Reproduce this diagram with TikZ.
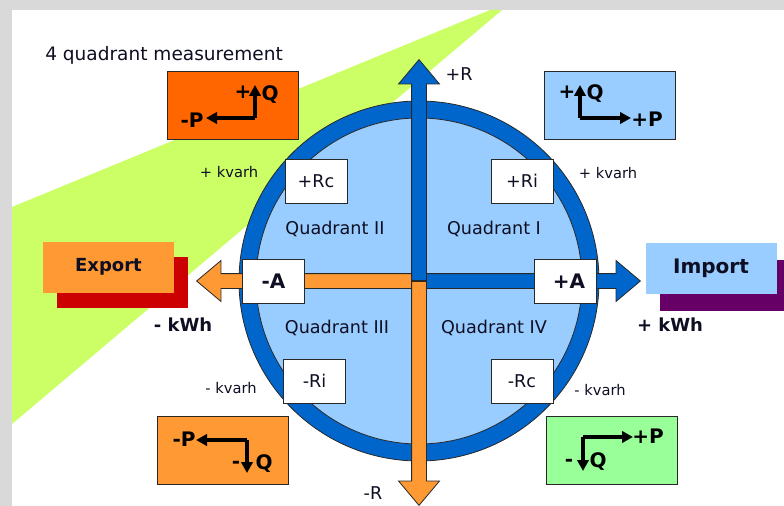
\documentclass[tikz,border=0pt]{standalone}
\usepackage{fontspec}
\setmainfont{DejaVu Sans}
\usetikzlibrary{
  shapes.arrows,
  arrows.meta,
  positioning
}
\newdimen\pxu
\pxu=0.75pt
\definecolor{framegray}{RGB}{217, 217, 217}
\definecolor{bandgreen}{RGB}{204, 255, 102}
\definecolor{ringblue}{RGB}{0, 102, 204}
\definecolor{discblue}{RGB}{153, 204, 255}
\definecolor{axisorange}{RGB}{255, 153, 51}
\definecolor{deeporange}{RGB}{255, 102, 0}
\definecolor{palegreen}{RGB}{153, 255, 153}
\definecolor{exportshadow}{RGB}{204, 0, 0}
\definecolor{importshadow}{RGB}{102, 0, 102}
\definecolor{outlinecolor}{RGB}{40, 40, 40}
\definecolor{labelcolor}{RGB}{15, 15, 35}
\tikzset{
blocktext/.style={
  align=center,
  text=labelcolor,
  font=\fontsize{13.2}{15}\selectfont
},
smalltext/.style={
  blocktext,
  font=\fontsize{11}{13}\selectfont
},
boldtext/.style={
  blocktext,
  font=\bfseries\fontsize{13.5}{15}\selectfont
},
vectext/.style={
  text=black,
  inner sep=0pt,
  font=\bfseries\fontsize{15}{16}\selectfont
},
rbox/.style={
  draw=outlinecolor,
  line width=0.6pt,
  fill=white,
  minimum width=62\pxu,
  minimum height=44\pxu,
  inner sep=0pt,
  blocktext
},
abox/.style={
  rbox,
  font=\bfseries\fontsize{15}{17}\selectfont
},
quadbox/.style={
  draw=outlinecolor,
  line width=0.7pt,
  minimum width=131\pxu,
  minimum height=68\pxu,
  inner sep=0pt
},
flowbox/.style={
  minimum width=131\pxu,
  minimum height=51\pxu,
  inner sep=0pt,
  boldtext
},
axisarrow/.style 2 args={
  single arrow,
  draw=outlinecolor,
  line width=0.6pt,
  fill=#1,
  inner sep=7\pxu,
  single arrow head extend=13\pxu,
  single arrow tip angle=80,
  minimum height=#2,
  anchor=tail
},
vecarrow/.style={
  -{Triangle[length=8.25pt,width=8.5pt]},
  line width=2.9pt,
  draw=black
}
}

\begin{document}
\begin{tikzpicture}[x=\pxu, y=-\pxu]
  \useasboundingbox (0,0) rectangle (784,506);
  \fill[white] (0,0) rectangle (784,506);
  \fill[framegray] (0,0) rectangle (784,10);
  \fill[framegray] (0,0) rectangle (12,506);

  % green band
  \fill[bandgreen] (12,207) -- (490,10) -- (502,10) -- (12,424) -- cycle;

  \node[anchor=west, inner sep=0pt, blocktext, font=\fontsize{13.9}{16}\selectfont] (title) at (45,55) {4 quadrant measurement};

  % the circle
  \coordinate (c) at (419,281);
  \node[circle, draw=outlinecolor, line width=0.6pt, fill=ringblue,
        minimum size=360\pxu, inner sep=0pt] (ring) at (c) {};
  \node[circle, draw=outlinecolor, line width=0.6pt, fill=discblue,
        minimum size=326\pxu, inner sep=0pt] (disc) at (c) {};

  % axes
  \node[axisarrow={axisorange}{222\pxu}, rotate=180] (exparrow) at (c) {};
  \node[axisarrow={ringblue}{221\pxu}] (imparrow) at (c) {};
  \node[axisarrow={ringblue}{221\pxu}, rotate=90] (posrarrow) at (c) {};
  \node[axisarrow={axisorange}{224\pxu}, rotate=-90] (negrarrow) at (c) {};

  \node[blocktext] (posr) at (459,74) {+R};
  \node[blocktext] (negr) at (373,493) {-R};

  % quadrants
  \node[blocktext] (q1) at (494,229) {Quadrant I};
  \node[blocktext] (q2) at (335,229) {Quadrant II};
  \node[blocktext] (q3) at (337,328) {Quadrant III};
  \node[blocktext] (q4) at (494,328) {Quadrant IV};

  \node[rbox] (rc) at (316,181) {+Rc};
  \node[rbox] (ri) at (522,181) {+Ri};
  \node[rbox] (negri) at (314.5,381) {-Ri};
  \node[rbox] (negrc) at (522,381) {-Rc};
  \node[abox] (nega) at (273.5,281) {-A};
  \node[abox] (posa) at (565,281) {\hspace{8\pxu}+A};

  \node[smalltext] (kvarh2) at (229,172) {+ kvarh};
  \node[smalltext] (kvarh1) at (608,173) {+ kvarh};
  \node[smalltext] (kvarh3) at (231,388) {- kvarh};
  \node[smalltext] (kvarh4) at (600,390) {- kvarh};

  % export / import
  \node[flowbox, fill=exportshadow] (expshadow) at (122,282) {};
  \node[flowbox, fill=axisorange] (export) at (108.5,267) {Export};
  \node[flowbox, fill=importshadow] (impshadow) at (725,285) {};
  \node[flowbox, fill=discblue, font=\bfseries\fontsize{15}{17}\selectfont] (import) at (711,268) {Import};
  \node[boldtext] (expkwh) at (183,325) {- kWh};
  \node[boldtext] (impkwh) at (670,325) {+ kWh};

  % quadrant II box
  \node[quadbox, fill=deeporange] (box2) at (232.5,105) {};
  \coordinate (v2) at (255,118);
  \coordinate (v2q) at (255,85);
  \coordinate (v2p) at (206,118);
  \draw[vecarrow] (v2) -- (v2q);
  \draw[vecarrow] (v2) -- (v2p);
  \node[vectext] (v2plus) at (243,92) {+};
  \node[vectext] (v2qlab) at (270,95) {Q};
  \node[vectext] (v2plab) at (192,120) {-P};

  % quadrant I box
  \node[quadbox, fill=discblue] (box1) at (610,105) {};
  \coordinate (v1) at (580,118);
  \coordinate (v1q) at (580,85);
  \coordinate (v1p) at (631,118);
  \draw[vecarrow] (v1) -- (v1q);
  \draw[vecarrow] (v1) -- (v1p);
  \node[vectext] (v1plus) at (567,92) {+};
  \node[vectext] (v1qlab) at (595,94) {Q};
  \node[vectext] (v1plab) at (647,119) {+P};

  % quadrant III box
  \node[quadbox, fill=axisorange] (box3) at (223,450.5) {};
  \coordinate (v3) at (247,440);
  \coordinate (v3p) at (196,440);
  \coordinate (v3q) at (247,473);
  \draw[vecarrow] (v3) -- (v3p);
  \draw[vecarrow] (v3) -- (v3q);
  \node[vectext] (v3plab) at (184,439) {-P};
  \node[vectext] (v3minus) at (236,465) {-};
  \node[vectext] (v3qlab) at (264,464) {Q};

  % quadrant IV box
  \node[quadbox, fill=palegreen] (box4) at (611.5,450.5) {};
  \coordinate (v4) at (583,437);
  \coordinate (v4p) at (633,437);
  \coordinate (v4q) at (583,471);
  \draw[vecarrow] (v4) -- (v4p);
  \draw[vecarrow] (v4) -- (v4q);
  \node[vectext] (v4plab) at (648,436) {+P};
  \node[vectext] (v4minus) at (569,463) {-};
  \node[vectext] (v4qlab) at (598,462) {Q};
\end{tikzpicture}
\end{document}
